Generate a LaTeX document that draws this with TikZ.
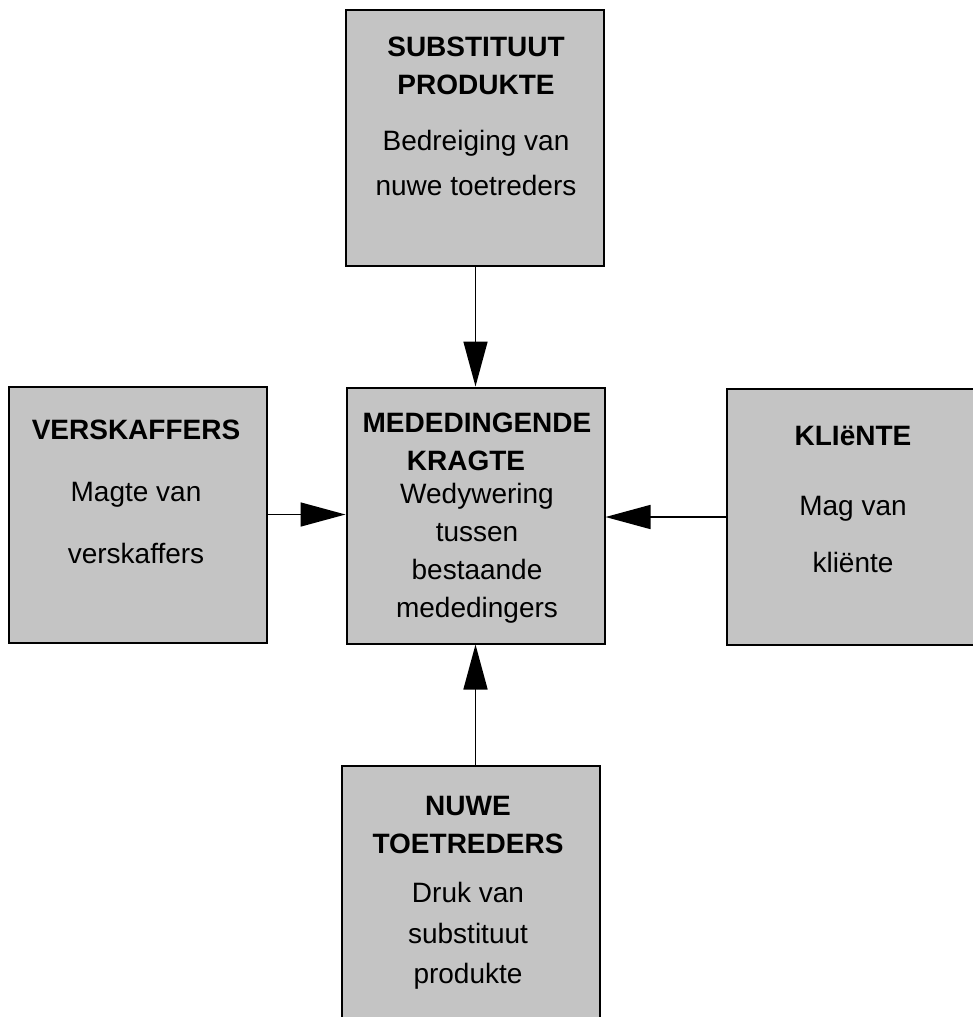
\documentclass[tikz,border=0pt]{standalone}
\usepackage{fontspec}
\setmainfont{Liberation Sans}
\usetikzlibrary{arrows.meta,positioning}
\definecolor{HalfTone}{RGB}{196,196,196}
\tikzset{
  force/.style={rectangle,draw=black,line width=1pt,fill=HalfTone,
                minimum width=129pt,minimum height=128pt,inner sep=0pt},
  ftext/.style={align=center,anchor=base,inner sep=0pt,
                font=\fontsize{14}{19}\selectfont},
  push/.style={-{Triangle[length=22.5pt,width=12pt]},line width=0.8pt},
}

\begin{document}
\begin{tikzpicture}[x=0.5pt,y=-0.5pt]
  \useasboundingbox (0,0) rectangle (973,1017);
  \clip (0,0) rectangle (973,1017);

  % the five forces
  \node[force] (subst) at (475,137.5) {};
  \node[force] (cmp)   at (475.5,515.5) {};
  \node[force] (supp)  at (138,514.5) {};
  \node[force] (clnt)  at (856,517) {};
  \node[force] (entr)  at (471,894) {};

  % base = last line
  \node[ftext] (subst-t) at (476,195)
    {\textbf{SUBSTITUUT}\\\textbf{PRODUKTE}\\[9pt]
     Bedreiging van\\[3.5pt]nuwe toetreders};
  \node[ftext] (cmp-t) at (477,617)
    {\textbf{MEDEDINGENDE}\\\hbox{\textbf{KRAGTE}\kern11pt}\\[-2.5pt]
     Wedywering\\tussen\\bestaande\\mededingers};
  \node[ftext] (supp-t) at (136,563)
    {\textbf{VERSKAFFERS}\\[12pt]Magte van\\[12pt]verskaffers};
  \node[ftext] (clnt-t) at (853,572)
    {\textbf{KLIëNTE}\\[16pt]Mag van\\[9.5pt]kliënte};
  \node[ftext] (entr-t) at (468,983)
    {\textbf{NUWE}\\\textbf{TOETREDERS}\\[5.5pt]Druk van\\[1.5pt]
     substituut\\[1pt]produkte};

  \draw[push] (subst.south -| cmp.north) -- (cmp.north);
  \draw[push] (supp.east) -- (supp.east -| cmp.west);
  \draw[push] (clnt.west) -- (clnt.west -| cmp.east);
  \draw[push] (entr.north -| cmp.south) -- (cmp.south);
\end{tikzpicture}
\end{document}
